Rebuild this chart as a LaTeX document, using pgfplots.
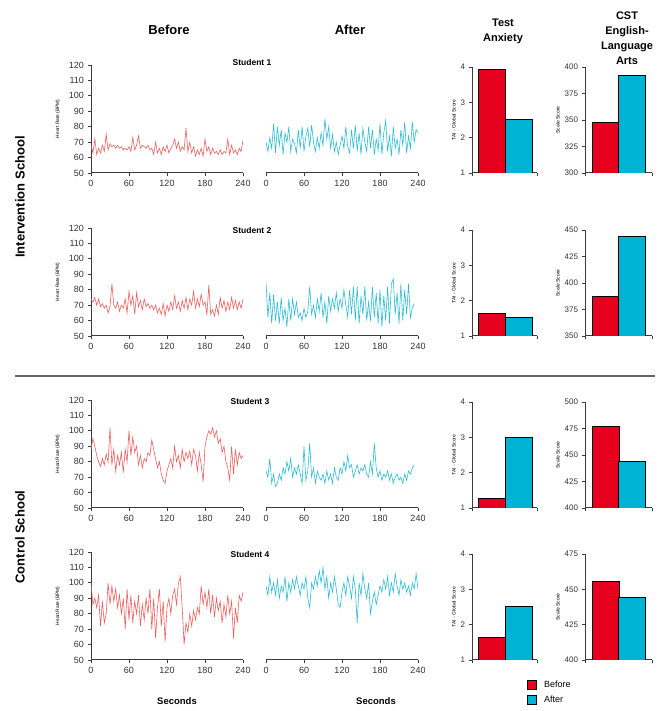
\documentclass[border=0pt]{standalone}
\usepackage{fontspec}
\setmainfont{Liberation Sans}
\usepackage{pgfplots}
\pgfplotsset{compat=1.18}
\usepackage{pgfplotstable}

\definecolor{hrred}{RGB}{240,95,95}
\definecolor{hrblue}{RGB}{45,190,210}
\definecolor{barred}{RGB}{230,0,30}
\definecolor{barblue}{RGB}{0,178,212}
\definecolor{axgray}{RGB}{60,60,60}

% heart rate, sampled every 3 s: t, before, after
\pgfplotstableread{
t b a
0 68 70
3 63 64
6 72 73
9 62 66
12 66 82
15 63 63
18 68 80
21 64 68
24 75 78
27 65 62
30 69 76
33 67 70
36 68 80
39 66 64
42 68 72
45 66 69
48 67 63
51 65 78
54 66 66
57 65 80
60 67 64
63 64 74
66 73 79
69 65 67
72 68 81
75 74 70
78 66 64
81 68 73
84 67 66
87 66 76
90 68 68
93 65 85
96 66 72
99 62 80
102 70 66
105 63 75
108 66 64
111 62 70
114 67 62
117 64 68
120 68 74
123 63 66
126 66 80
129 68 67
132 72 63
135 66 78
138 70 66
141 64 81
144 67 64
147 65 76
150 79 62
153 64 79
156 70 70
159 63 64
162 67 80
165 61 66
168 65 78
171 62 62
174 66 72
177 61 65
180 72 82
183 64 62
186 67 76
189 62 84
192 66 64
195 63 74
198 64 61
201 62 80
204 65 66
207 62 72
210 64 62
213 63 78
216 72 68
219 62 83
222 68 63
225 63 74
228 65 66
231 62 83
234 66 70
237 64 78
240 71 76
}\stuA

\pgfplotstableread{
t b a
0 74 85
3 72 62
6 75 78
9 70 58
12 74 77
15 69 60
18 71 72
21 68 58
24 70 75
27 65 60
30 69 68
33 84 56
36 70 74
39 68 60
42 72 74
45 66 64
48 70 72
51 68 62
54 74 65
57 65 60
60 79 68
63 70 62
66 76 66
69 64 82
72 78 64
75 69 70
78 73 62
81 67 74
84 74 66
87 69 78
90 71 62
93 68 72
96 70 58
99 67 76
102 70 66
105 65 74
108 68 68
111 64 78
114 71 66
117 63 74
120 70 68
123 66 80
126 72 70
129 67 62
132 76 80
135 68 64
138 72 82
141 66 60
144 73 82
147 68 58
150 75 76
153 67 64
156 74 82
159 70 60
162 79 72
165 68 60
168 74 82
171 69 62
174 77 78
177 70 58
180 72 80
183 64 56
186 83 76
189 64 60
192 67 82
195 63 58
198 70 84
201 64 87
204 75 64
207 68 78
210 73 58
213 66 84
216 72 60
219 67 80
222 75 64
225 68 84
228 73 62
231 67 68
234 72 71
237 68 nan
240 74 nan
}\stuB

\pgfplotstableread{
t b a
0 88 74
3 95 70
6 90 82
9 84 66
12 80 72
15 77 64
18 82 66
21 78 72
24 85 68
27 80 76
30 102 72
33 78 80
36 88 74
39 74 82
42 84 70
45 78 76
48 86 72
51 73 78
54 88 72
57 80 66
60 100 90
63 84 68
66 96 74
69 86 92
72 90 70
75 78 76
78 84 66
81 76 74
84 82 70
87 80 68
90 86 72
93 84 66
96 94 74
99 88 68
102 82 72
105 76 66
108 80 76
111 72 70
114 68 68
117 66 76
120 74 72
123 78 80
126 82 74
129 76 84
132 90 76
135 80 78
138 84 70
141 76 74
144 88 78
147 80 72
150 86 76
153 82 74
156 87 78
159 78 72
162 88 70
165 84 80
168 74 72
171 86 92
174 78 76
177 67 70
180 90 74
183 96 68
186 100 72
189 98 70
192 102 74
195 96 68
198 100 72
201 92 66
204 95 70
207 86 72
210 90 68
213 80 70
216 76 66
219 68 72
222 90 68
225 72 74
228 88 72
231 78 76
234 86 78
237 82 nan
240 84 nan
}\stuC

\pgfplotstableread{
t b a
0 100 98
3 86 92
6 90 104
9 84 94
12 92 100
15 72 92
18 88 102
21 74 90
24 80 98
27 100 94
30 86 104
33 98 88
36 88 100
39 96 94
42 84 102
45 92 96
48 80 104
51 90 98
54 70 92
57 96 100
60 76 96
63 92 104
66 74 90
69 88 84
72 80 100
75 92 96
78 72 104
81 86 98
84 76 108
87 90 100
90 80 110
93 96 96
96 70 104
99 90 90
102 64 100
105 84 94
108 96 104
111 72 96
114 88 86
117 62 84
120 84 94
123 90 100
126 80 92
129 92 104
132 96 98
135 86 90
138 100 104
141 104 96
144 84 74
147 60 100
150 74 92
153 68 106
156 80 96
159 72 90
162 82 100
165 76 80
168 84 88
171 80 94
174 98 86
177 86 92
180 94 98
183 84 94
186 96 102
189 80 96
192 92 104
195 78 92
198 90 100
201 82 94
204 88 106
207 74 98
210 86 92
213 78 102
216 92 96
219 80 100
222 88 94
225 64 98
228 84 92
231 74 100
234 92 96
237 88 106
240 94 96
}\stuD

\pgfplotsset{
  every axis/.append style={
    scale only axis,
    /pgf/number format/assume math mode=true,
    axis line style={axgray, line width=1pt, -},
    tick style={axgray, line width=0.8pt},
    tick align=outside, major tick length=3.5pt,
  },
  hr/.style={
    width=152pt, height=108pt, anchor=south west,
    xmin=0, xmax=240, ymin=50, ymax=120,
    axis x line*=bottom, axis y line*=left,
    xtick={0,60,...,240}, ytick={50,60,...,120},
    tick label style={font=\fontsize{9}{9}\selectfont, text=black!80},
    ylabel={Heart Rate (BPM)},
    ylabel style={font=\fontsize{4.8}{5}\selectfont, yshift=2pt},
  },
  hrafter/.style={hr, axis y line=none, ytick=\empty, ylabel={}},
  bars/.style={
    height=106pt, anchor=south west,
    axis x line*=bottom, axis y line*=left,
    xticklabels={},
    tick label style={font=\fontsize{8}{8}\selectfont, text=black!80},
    ylabel style={font=\fontsize{5}{5}\selectfont, yshift=-2pt},
  },
  tai/.style={bars, width=65pt, xmin=0, xmax=65, xtick={0,65},
    ymin=1, ymax=4, ytick={1,2,3,4}, ylabel={TAI - Global Score}},
  cst/.style={bars, width=67pt, xmin=0, xmax=67, xtick={0,67},
    ylabel={Scale Score}},
  before/.style={ybar, bar width=27pt, bar shift=0pt, fill=barred, draw=black, line width=0.8pt},
  after/.style={ybar, bar width=27pt, bar shift=0pt, fill=barblue, draw=black, line width=0.8pt},
  trace/.style={line width=0.6pt, mark=none},
}

\begin{document}
\begin{tikzpicture}[x=1pt, y=1pt]
\useasboundingbox (0pt,0pt) rectangle (658pt,711pt);

% column headers
\node[font=\bfseries\fontsize{13}{14}\selectfont] at (169pt,681pt) {Before};
\node[font=\bfseries\fontsize{13}{14}\selectfont] at (350pt,681pt) {After};
\node[font=\bfseries\fontsize{11}{15}\selectfont, align=center] at (503pt,680pt) {Test\\Anxiety};
\node[font=\bfseries\fontsize{11}{15}\selectfont, align=center] at (627pt,673pt) {CST\\English-\\Language\\Arts};

% row group labels
\node[font=\bfseries\fontsize{13}{14}\selectfont, rotate=90] at (20pt,514pt) {Intervention School};
\node[font=\bfseries\fontsize{13}{14}\selectfont, rotate=90] at (20pt,174pt) {Control School};
\draw[black!60, line width=1.6pt] (15pt,335pt) -- (655pt,335pt);

% student titles
\node[font=\bfseries\fontsize{8.5}{9}\selectfont] at (252pt,649pt) {Student 1};
\node[font=\bfseries\fontsize{8.5}{9}\selectfont] at (252pt,481pt) {Student 2};
\node[font=\bfseries\fontsize{8.5}{9}\selectfont] at (250pt,310pt) {Student 3};
\node[font=\bfseries\fontsize{8.5}{9}\selectfont] at (250pt,157pt) {Student 4};

% x labels
\node[font=\bfseries\fontsize{9.5}{10}\selectfont] at (177pt,10pt) {Seconds};
\node[font=\bfseries\fontsize{9.5}{10}\selectfont] at (376pt,10pt) {Seconds};

% ---- Student 1 ----
\begin{axis}[hr, at={(91pt,538pt)}]
  \addplot[trace, hrred] table[x=t, y=b] {\stuA};
\end{axis}
\begin{axis}[hrafter, at={(266pt,538pt)}]
  \addplot[trace, hrblue] table[x=t, y=a] {\stuA};
\end{axis}
\begin{axis}[tai, at={(472pt,538pt)}]
  \addplot[before] coordinates {(19.5,3.92)};
  \addplot[after] coordinates {(46.5,2.53)};
\end{axis}
\begin{axis}[cst, at={(585pt,538pt)}, ymin=300, ymax=400, ytick={300,325,...,400}]
  \addplot[before] coordinates {(20.5,347.5)};
  \addplot[after] coordinates {(47,392.5)};
\end{axis}

% ---- Student 2 ----
\begin{axis}[hr, at={(91pt,375pt)}]
  \addplot[trace, hrred] table[x=t, y=b] {\stuB};
\end{axis}
\begin{axis}[hrafter, at={(266pt,375pt)}]
  \addplot[trace, hrblue] table[x=t, y=a] {\stuB};
\end{axis}
\begin{axis}[tai, at={(472pt,375pt)}]
  \addplot[before] coordinates {(19.5,1.64)};
  \addplot[after] coordinates {(46.5,1.53)};
\end{axis}
\begin{axis}[cst, at={(585pt,375pt)}, ymin=350, ymax=450, ytick={350,375,...,450}]
  \addplot[before] coordinates {(20.5,387)};
  \addplot[after] coordinates {(47,444)};
\end{axis}

% ---- Student 3 ----
\begin{axis}[hr, at={(91pt,203pt)}]
  \addplot[trace, hrred] table[x=t, y=b] {\stuC};
\end{axis}
\begin{axis}[hrafter, at={(266pt,203pt)}]
  \addplot[trace, hrblue] table[x=t, y=a] {\stuC};
\end{axis}
\begin{axis}[tai, at={(472pt,203pt)}]
  \addplot[before] coordinates {(19.5,1.26)};
  \addplot[after] coordinates {(46.5,3.0)};
\end{axis}
\begin{axis}[cst, at={(585pt,203pt)}, ymin=400, ymax=500, ytick={400,425,...,500}]
  \addplot[before] coordinates {(20.5,477)};
  \addplot[after] coordinates {(47,444)};
\end{axis}

% ---- Student 4 ----
\begin{axis}[hr, at={(91pt,51pt)}]
  \addplot[trace, hrred] table[x=t, y=b] {\stuD};
\end{axis}
\begin{axis}[hrafter, at={(266pt,51pt)}]
  \addplot[trace, hrblue] table[x=t, y=a] {\stuD};
\end{axis}
\begin{axis}[tai, at={(472pt,51pt)},
    legend style={draw=none, fill=none, at={(0.8,-0.16)}, anchor=north west,
      font=\fontsize{9}{10}\selectfont, row sep=3pt, cells={anchor=west}},
    legend image code/.code={\draw[#1, line width=0.8pt] (0pt,-4pt) rectangle (9pt,5pt); \path (14pt,0pt);}]
  \addplot[before] coordinates {(19.5,1.65)};
  \addplot[after] coordinates {(46.5,2.52)};
  \legend{Before, After}
\end{axis}
\begin{axis}[cst, at={(585pt,51pt)}, ymin=400, ymax=475, ytick={400,425,...,475}]
  \addplot[before] coordinates {(20.5,455.5)};
  \addplot[after] coordinates {(47,444.5)};
\end{axis}
\end{tikzpicture}
\end{document}
